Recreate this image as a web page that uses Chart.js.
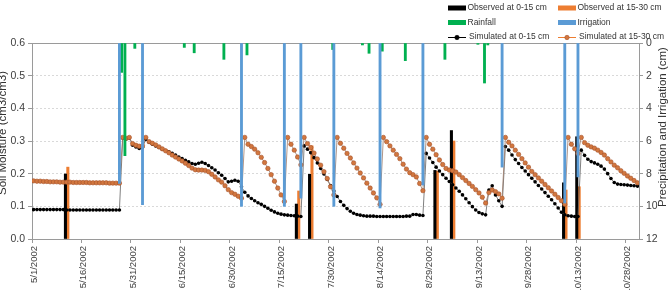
<!DOCTYPE html>
<html><head><meta charset="utf-8">
<script src="https://cdn.jsdelivr.net/npm/chart.js@4/dist/chart.umd.min.js"></script>
<style>html,body{margin:0;padding:0;background:#fff;overflow:hidden}#wrap{position:relative;width:670px;height:290px}</style>
</head><body><div id="wrap"><canvas id="c" width="670" height="290"></canvas></div>
<script>
// x tick labels (start day of every 15-day step, day 0 = 5/1/2002)
const xTickLabels = ['5/1/2002','5/16/2002','5/31/2002','6/15/2002','6/30/2002','7/15/2002','7/30/2002','8/14/2002','8/29/2002','9/13/2002','9/28/2002','10/13/2002','10/28/2002'];
const tickDays = [0,15,30,45,60,75,90,105,120,135,150,165,180];

// simulated soil moisture, one value per day from 5/1/2002 (day 0) to 10/31/2002 (day 183)
const sim0_15 = [
0.090,0.090,0.090,0.090,0.090,0.090,0.090,0.090,0.090,0.090,0.089,0.089,0.089,0.089,0.089,0.089,0.089,0.089,0.089,0.089,0.089,0.089,0.089,0.089,0.089,0.089,0.089,
0.309,0.306,0.309,
0.287,0.282,0.277,0.280,
0.305,
0.296,0.290,0.285,0.280,0.275,0.271,0.267,0.262,0.257,0.251,0.246,0.241,0.236,0.231,0.229,0.232,0.235,0.231,0.225,0.218,0.211,0.203,0.195,0.185,0.175,0.177,0.180,0.177,0.160,
0.143,0.132,0.124,0.117,0.111,0.106,0.100,0.094,0.088,0.083,0.079,0.076,0.074,0.073,0.072,0.071,0.070,0.069,
0.285,0.275,0.264,0.249,0.233,0.216,0.199,0.182,0.164,0.147,
0.130,0.115,0.103,0.093,0.085,0.079,0.075,0.073,0.071,0.070,0.070,0.070,0.069,0.069,0.069,0.069,0.069,0.069,0.069,0.069,0.069,0.070,0.070,0.075,0.075,0.073,0.072,
0.262,0.248,0.234,0.220,0.208,0.197,0.186,0.176,0.166,0.156,0.146,0.135,0.123,0.111,0.099,0.089,0.081,0.077,0.074,
0.150,0.163,0.135,0.117,0.100,
0.283,0.272,0.257,0.243,0.231,0.219,0.208,0.197,0.186,0.175,0.164,0.153,0.142,0.131,0.120,0.108,0.095,0.082,0.074,0.071,0.070,0.069,0.069,
0.272,0.256,0.244,0.237,0.233,0.229,0.223,0.214,0.200,0.185,0.173,0.168,0.167,0.166,0.165,0.164,0.163,0.162];
const sim15_30 = [
0.178,0.177,0.177,0.176,0.176,0.175,0.175,0.175,0.174,0.174,0.174,0.174,0.173,0.173,0.173,0.173,0.173,0.172,0.172,0.172,0.172,0.172,0.172,0.171,0.171,0.171,0.171,
0.311,0.308,0.311,
0.292,0.287,0.284,0.285,
0.311,
0.298,0.293,0.288,0.282,0.276,0.270,0.264,0.257,0.251,0.245,0.239,0.232,0.225,0.217,0.212,0.211,0.211,0.210,0.206,0.198,0.190,0.181,0.174,0.163,0.151,0.142,0.137,0.131,0.125,
0.311,0.290,0.283,0.275,0.264,0.250,0.234,0.216,0.197,0.177,0.156,0.135,0.115,
0.311,0.290,0.272,0.251,0.227,
0.311,0.292,0.280,0.263,0.245,0.226,0.206,0.185,0.160,0.135,
0.311,0.293,0.278,0.262,0.248,0.233,0.217,0.202,0.187,0.171,0.156,0.141,0.126,0.106,
0.311,0.298,0.285,0.272,0.259,0.246,0.229,0.214,0.203,0.197,0.190,0.170,0.148,
0.311,0.290,0.275,0.258,0.242,0.228,0.216,0.211,0.209,0.205,0.197,0.188,0.179,0.170,0.161,0.151,0.141,0.128,0.110,
0.142,0.150,0.145,0.138,0.125,
0.311,0.296,0.285,0.272,0.259,0.246,0.233,0.220,0.207,0.197,0.187,0.177,0.167,0.157,0.147,0.137,0.127,0.117,0.106,
0.311,0.290,0.276,0.262,
0.311,0.295,0.287,0.282,0.278,0.272,0.265,0.257,0.246,0.236,0.226,0.218,0.209,0.201,0.193,0.186,0.179,0.172];

// observed soil moisture
const obsDays  = [10, 80, 84, 122, 127, 161, 165];
const obs0_15  = [0.199, 0.107, 0.198, 0.210, 0.332, 0.172, 0.313];
const obs15_30 = [0.220, 0.147, 0.285, 0.208, 0.300, 0.150, 0.160];

// precipitation and irrigation (cm)
const rainDays = [27, 28, 31, 46, 49, 58, 65, 91, 100, 102, 106, 113, 125, 135, 137, 138];
const rainCm   = [1.8, 6.9, 0.33, 0.27, 0.6, 1.0, 0.73, 0.4, 0.12, 0.63, 0.5, 1.08, 1.0, 0.08, 2.45, 0.12];
const irrDays  = [27, 34, 64, 77, 82, 92, 106, 119, 143, 162, 166];
const irrCm    = [8.6, 9.9, 10.0, 10.0, 9.5, 10.0, 10.1, 8.7, 7.6, 9.8, 8.2];

const FONT = "'Liberation Sans', Arial, Helvetica, sans-serif";
const C = {black:'#000000', orange:'#ed7d31', green:'#00b050', blue:'#5b9bd5', mkO:'#d2773f', mkOb:'#a6522a'};
const series = arr => arr.map((v, i) => ({x: i, y: v}));
const pairs = (days, vals) => days.map((d, i) => ({x: d, y: vals[i]}));

const decor = {
  id: 'decor',
  beforeDatasetsDraw(chart) {
    const {ctx, chartArea: a} = chart;
    ctx.save();
    ctx.strokeStyle = '#9a9a9a'; ctx.lineWidth = 1;
    ctx.strokeRect(Math.round(a.left) + 0.5, Math.round(a.top) + 0.5, Math.round(a.right - a.left), Math.round(a.bottom - a.top));
    ctx.restore();
  },
  afterDraw(chart) {
    const ctx = chart.ctx;
    ctx.save();
    ctx.fillStyle = '#333';
    ctx.font = '11.5px ' + FONT;
    ctx.textAlign = 'center'; ctx.textBaseline = 'alphabetic';
    ctx.save(); ctx.translate(5.5, 133); ctx.rotate(-Math.PI / 2); ctx.fillText('Soil Moisture (cm3/cm3)', 0, 0); ctx.restore();
    ctx.save(); ctx.translate(665.5, 127); ctx.rotate(-Math.PI / 2); ctx.fillText('Precipitation and Irrigation (cm)', 0, 0); ctx.restore();
    // legend
    const cols = [448, 558], rows = [8, 22.5, 37], sw = 18;
    const items = [
      {c:0, r:0, t:'box', col:C.black, s:'Observed at 0-15 cm'},
      {c:1, r:0, t:'box', col:C.orange, s:'Observed at 15-30 cm'},
      {c:0, r:1, t:'box', col:C.green, s:'Rainfall'},
      {c:1, r:1, t:'box', col:C.blue, s:'Irrigation'},
      {c:0, r:2, t:'line', col:'#000', mk:'#000', mb:'#000', s:'Simulated at 0-15 cm'},
      {c:1, r:2, t:'line', col:C.orange, mk:C.mkO, mb:C.mkOb, s:'Simulated at 15-30 cm'}
    ];
    ctx.font = '8.5px ' + FONT; ctx.textAlign = 'left'; ctx.textBaseline = 'middle';
    for (const it of items) {
      const x = cols[it.c], y = rows[it.r];
      if (it.t === 'box') {
        ctx.fillStyle = it.col; ctx.fillRect(x, y - 2.5, sw, 5);
        ctx.fillStyle = '#333'; ctx.fillText(it.s, x + sw + 1.5, y);
      } else {
        ctx.strokeStyle = it.col; ctx.lineWidth = 1;
        ctx.beginPath(); ctx.moveTo(x, y + 0.5); ctx.lineTo(x + sw, y + 0.5); ctx.stroke();
        ctx.fillStyle = it.mk; ctx.strokeStyle = it.mb; ctx.lineWidth = 0.6;
        ctx.beginPath(); ctx.arc(x + sw / 2, y + 0.5, 2.2, 0, Math.PI * 2); ctx.fill(); ctx.stroke();
        ctx.fillStyle = '#333'; ctx.fillText(it.s, x + sw + 3, y);
      }
    }
    ctx.restore();
  }
};

new Chart(document.getElementById('c'), {
  type: 'bar',
  data: {
    datasets: [
      {type:'bar', label:'Irrigation', data: pairs(irrDays, irrCm), xAxisID:'x2', yAxisID:'y2', backgroundColor:C.blue, barThickness:2.2, order:0},
      {type:'bar', label:'Rainfall', data: pairs(rainDays, rainCm), xAxisID:'x2', yAxisID:'y2', backgroundColor:C.green, barThickness:2.2, order:1},
      {type:'line', label:'Simulated at 15-30 cm', data: series(sim15_30), xAxisID:'x', yAxisID:'y', borderColor:'#9c7a68', borderWidth:0.8, tension:0,
        pointRadius:2.2, pointBackgroundColor:C.mkO, pointBorderColor:C.mkOb, pointBorderWidth:0.6, order:2},
      {type:'line', label:'Simulated at 0-15 cm', data: series(sim0_15), xAxisID:'x', yAxisID:'y', borderColor:'#606060', borderWidth:0.8, tension:0,
        pointRadius:1.8, pointBackgroundColor:'#000', pointBorderColor:'#000', pointBorderWidth:0, order:3},
      {type:'bar', label:'Observed at 0-15 cm', data: pairs(obsDays, obs0_15), xAxisID:'x', yAxisID:'y', backgroundColor:C.black, barThickness:2.4, order:4},
      {type:'bar', label:'Observed at 15-30 cm', data: pairs(obsDays, obs15_30), xAxisID:'x', yAxisID:'y', backgroundColor:C.orange, barThickness:2.4, order:5}
    ]
  },
  options: {
    responsive: false, animation: false, devicePixelRatio: 1,
    layout: {padding: {left: 0, right: 0, top: 43, bottom: 0}},
    plugins: {legend: {display: false}, tooltip: {enabled: false}},
    scales: {
      x: {type:'linear', position:'bottom', min:-0.5, max:183.5, offset:false,
        afterBuildTicks: s => { s.ticks = tickDays.map(d => ({value: d - 0.5})); },
        afterFit: s => { s.height = 51; },
        ticks: {autoSkip:false, minRotation:90, maxRotation:90, padding:3, labelOffset:2, color:'#404040', font:{family:FONT, size:9.5},
          callback: (v, i) => xTickLabels[i]},
        grid: {drawOnChartArea:false, drawTicks:true, tickLength:4, tickColor:'#9a9a9a', offset:false},
        border: {display:false}},
      x2: {type:'linear', display:false, min:-0.5, max:183.5, offset:false, grid:{offset:false}},
      y: {position:'left', min:0, max:0.6, afterFit: s => { s.width = 32; },
        ticks: {stepSize:0.1, padding:3, color:'#404040', font:{family:FONT, size:10.5}, callback: v => v.toFixed(1)},
        grid: {color:'#d9d9d9', lineWidth:1, tickLength:4, tickColor:'#9a9a9a'},
        border: {display:false, dash:[2,2]}},
      y2: {position:'right', min:0, max:12, reverse:true, afterFit: s => { s.width = 31; },
        ticks: {stepSize:2, padding:3, color:'#404040', font:{family:FONT, size:10.5}},
        grid: {drawOnChartArea:false, tickLength:4, tickColor:'#9a9a9a'},
        border: {display:false}}
    }
  },
  plugins: [decor]
});
</script>
</body></html>
